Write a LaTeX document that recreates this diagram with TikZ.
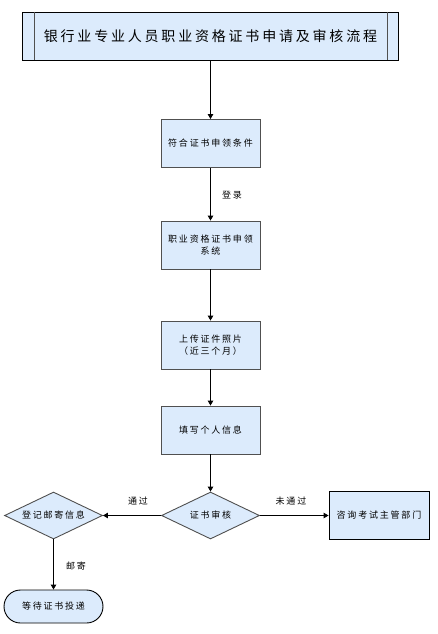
\documentclass[tikz,border=0pt]{standalone}
\usepackage{fontspec}
\newfontfamily\cjk[LetterSpace=20]{Noto Sans CJK SC}
\usetikzlibrary{shapes.geometric,arrows.meta,positioning}
\definecolor{boxfill}{RGB}{220,235,252}
\definecolor{boxline}{RGB}{80,80,80}
\tikzset{
  stepbox/.style={draw=boxline,line width=0.9pt,fill=boxfill,minimum width=99pt,minimum height=48pt,inner sep=1pt,align=center,font=\cjk\fontsize{9}{12}\selectfont},
  decbox/.style={diamond,draw=boxline,line width=0.9pt,fill=boxfill,minimum width=98pt,minimum height=47pt,inner sep=0pt,shape aspect=2,font=\cjk\fontsize{9}{12}\selectfont},
  endbox/.style={draw=black,line width=0.9pt,fill=boxfill,minimum width=99pt,minimum height=33pt,rounded corners=16.5pt,inner sep=0pt,font=\cjk\fontsize{9}{12}\selectfont},
  conn/.style={draw=black,line width=0.9pt,-{Triangle[width=5.5pt,length=5pt]}},
  lbl/.style={font=\cjk\fontsize{9}{12}\selectfont,inner sep=0pt}
}
\begin{document}
\begin{tikzpicture}[x=1pt,y=-1pt]
\useasboundingbox (0,0) rectangle (437,634);
\node[draw=black,line width=0.9pt,fill=boxfill,minimum width=376pt,minimum height=48pt,inner sep=0pt] (title) at (210,36) {};
\node[inner sep=0pt,font=\cjk\fontsize{14}{16}\selectfont] (ttext) at (210.5,36) {银行业专业人员职业资格证书申请及审核流程};
\draw[boxline,line width=0.9pt] (34,12) -- (34,60);
\draw[boxline,line width=0.9pt] (387,12) -- (387,60);
\node[stepbox] (b1) at (210.5,143.5) {符合证书申领条件};
\node[stepbox] (b2) at (210.5,245) {职业资格证书申领\\系统};
\node[stepbox] (b3) at (210.5,345) {上传证件照片\\（近三个月）};
\node[stepbox] (b4) at (210.5,430) {填写个人信息};
\node[decbox] (d1) at (210.5,515.5) {证书审核};
\node[decbox] (d2) at (53.5,515.5) {登记邮寄信息};
\node[stepbox,draw=black,minimum width=100pt] (r1) at (379,515.5) {咨询考试主管部门};
\node[endbox] (e1) at (53.5,606.5) {等待证书投递};
\draw[conn] (title.south -| b1.north) -- (b1.north);
\draw[conn] (b1) -- (b2);
\draw[conn] (b2) -- (b3);
\draw[conn] (b3) -- (b4);
\draw[conn] (b4.south) -- (d1.north);
\draw[conn] (d1.west) -- (d2.east);
\draw[conn] (d1.east) -- (r1.west);
\draw[conn] (d2.south) -- (e1.north);
\node[lbl] (l1) at (232,195) {登录};
\node[lbl] (l2) at (138,501) {通过};
\node[lbl] (l3) at (291,501) {未通过};
\node[lbl] (l4) at (76,566) {邮寄};
\end{tikzpicture}
\end{document}
